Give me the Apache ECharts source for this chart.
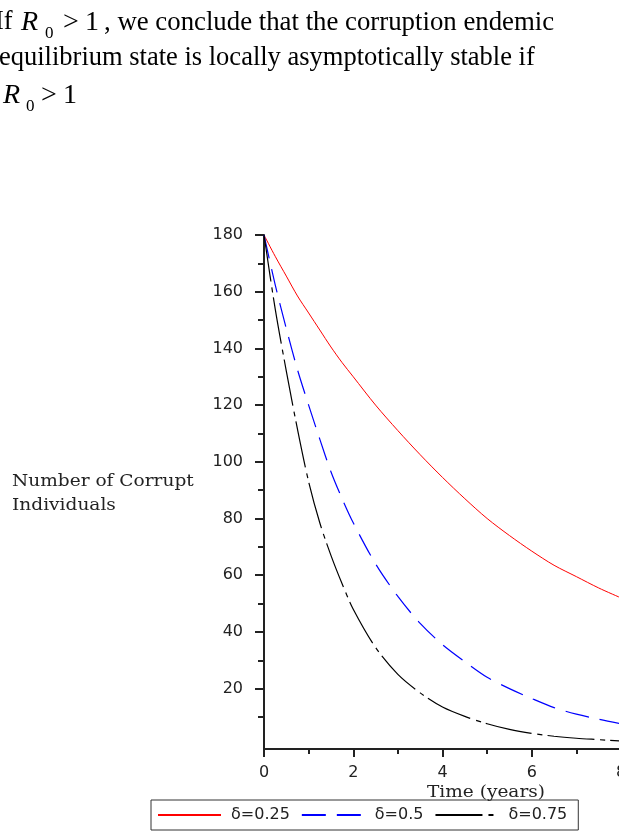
<!DOCTYPE html>
<html>
<head>
<meta charset="utf-8">
<script src="https://cdn.jsdelivr.net/npm/echarts@6/dist/echarts.min.js"></script>
<style>
  html, body { margin: 0; padding: 0; background: #fff; }
  #chart { width: 619px; height: 834px; }
</style>
</head>
<body>
<div id="chart"></div>
<script>
// time in years
var years = [0, 0.25, 0.5, 0.75, 1, 1.25, 1.5, 1.75, 2, 2.5, 3, 3.5, 4, 4.5, 5, 5.5, 6, 6.5, 7, 7.5, 8];
// number of corrupt individuals, one list per delta
var delta025 = [180, 172.5, 165.5, 158.5, 152.5, 146.5, 140.5, 135, 130, 120, 111, 102.5, 94.5, 87, 80, 74, 68.5, 63.5, 59.5, 55.5, 52];
var delta05 = [180, 162.5, 147, 132.5, 120, 108, 96.5, 87, 78.5, 64, 52.5, 43, 35.5, 29.5, 24, 20, 16.5, 13.3, 11, 9.2, 7.6];
var delta075 = [180, 154, 132, 111.5, 93, 78.5, 67, 57, 48, 34.5, 25, 18.5, 13.5, 10.2, 7.6, 5.6, 4.2, 3.2, 2.5, 2, 1.5];
var seriesNames = ['δ=0.25', 'δ=0.5', 'δ=0.75'];
var yLabels = [20, 40, 60, 80, 100, 120, 140, 160, 180];
var yMinor = [10, 20, 30, 40, 50, 60, 70, 80, 90, 100, 110, 120, 130, 140, 150, 160, 170, 180];

function pairs(vals) {
  return years.map(function (t, i) { return [t, vals[i]]; });
}

var serif = 'Liberation Serif';
var txt = function (x, y, s, size, extra) {
  var st = { text: s, x: 0, y: 0, font: size + 'px "' + serif + '"', fill: '#000', verticalAlign: 'bottom' };
  if (extra) st.font = extra + ' ' + st.font;
  return { type: 'text', x: x, y: y, style: st };
};

var myChart = echarts.init(document.getElementById('chart'));
var option = {
  animation: false,
  backgroundColor: '#fff',
  grid: { left: 264, top: 235, width: 357, height: 514, outerBoundsMode: 'none', containLabel: false },
  xAxis: {
    type: 'value',
    min: 0, max: 8, interval: 2,
    axisLine: { onZero: false, lineStyle: { color: '#222', width: 2 } },
    axisTick: { length: 8, lineStyle: { color: '#222', width: 2 } },
    minorTick: { show: true, splitNumber: 2, length: 5, lineStyle: { color: '#222', width: 2 } },
    splitLine: { show: false },
    axisLabel: { margin: 16, color: '#222', fontSize: 16, fontFamily: 'DejaVu Sans', showMaxLabel: true }
  },
  yAxis: [{
    type: 'value',
    min: -1.3, max: 180,
    axisLine: { onZero: false, lineStyle: { color: '#222', width: 2 } },
    axisTick: { length: 6, customValues: yMinor, lineStyle: { color: '#222', width: 2 } },
    axisLabel: { show: false },
    splitLine: { show: false }
  }, {
    type: 'value',
    position: 'left',
    min: -1.3, max: 180,
    axisLine: { show: false, onZero: false },
    axisTick: { length: 9, customValues: yLabels, lineStyle: { color: '#222', width: 2 } },
    axisLabel: { margin: 21, customValues: yLabels, color: '#222', fontSize: 16, fontFamily: 'DejaVu Sans' },
    splitLine: { show: false }
  }],
  legend: {
    left: 151, top: 800,
    itemWidth: 63, itemHeight: 14, itemGap: 11,
    padding: [7, 11, 7, 6],
    borderColor: '#333', borderWidth: 1,
    itemStyle: { opacity: 0 },
    textStyle: { fontSize: 16, fontFamily: 'DejaVu Sans', color: '#222', padding: [0, 0, 0, 5] },
    data: seriesNames
  },
  series: [{
    name: seriesNames[0], type: 'line', data: pairs(delta025),
    symbol: 'none', smooth: 0.3,
    lineStyle: { color: '#ff0000', width: 1 }, itemStyle: { color: '#ff0000' }
  }, {
    name: seriesNames[1], type: 'line', data: pairs(delta05),
    symbol: 'none', smooth: 0.3,
    lineStyle: { color: '#0000ff', width: 1.2, type: [24, 11] }, itemStyle: { color: '#0000ff' }
  }, {
    name: seriesNames[2], type: 'line', data: pairs(delta075),
    symbol: 'none', smooth: 0.3,
    lineStyle: { color: '#000', width: 1.2, type: [47, 6, 5, 5] }, itemStyle: { color: '#000' }
  }],
  graphic: [
    // paragraph above the figure
    txt(-5, 36, 'If', 26.5),
    txt(21, 37, 'R', 28, 'italic'),
    txt(45, 42, '0', 17),
    txt(63, 37, '>', 28),
    txt(85, 37, '1', 28),
    txt(104, 36, ', we conclude that the corruption endemic', 26.8),
    txt(-1, 72, 'equilibrium state is locally asymptotically stable if', 26.5),
    txt(3, 110, 'R', 28, 'italic'),
    txt(26, 115, '0', 17),
    txt(41, 110, '>', 28),
    txt(63, 110, '1', 28),
    // axis titles
    { type: 'text', x: 12, y: 470, scaleX: 1.16, style: { text: 'Number of Corrupt\nIndividuals', font: '16px "DejaVu Serif"', lineHeight: 24, fill: '#222' } },
    { type: 'text', x: 486, y: 784, scaleX: 1.09, style: { text: 'Time (years)', font: '17px "DejaVu Serif"', fill: '#222', align: 'center' } }
  ]
};
myChart.setOption(option);
</script>
</body>
</html>
